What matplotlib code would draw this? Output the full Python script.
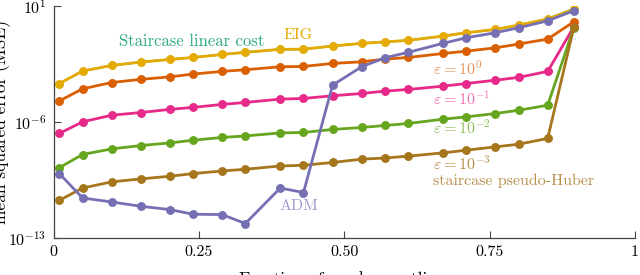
import numpy as np
import matplotlib
matplotlib.use("Agg")
import matplotlib.pyplot as plt

plt.rcParams['font.family'] = ['cmr10']
plt.rcParams['mathtext.fontset'] = 'cm'
plt.rcParams['axes.formatter.use_mathtext'] = True

x = [0.01, 0.05, 0.10, 0.15, 0.20, 0.24, 0.29, 0.33, 0.39, 0.43,
     0.48, 0.53, 0.57, 0.61, 0.67, 0.71, 0.76, 0.80, 0.85, 0.895]

# log10(MSE) values
eig = [-3.67, -2.92, -2.58, -2.38, -2.22, -2.10, -1.92, -1.79, -1.61, -1.60,
       -1.41, -1.25, -1.16, -1.07, -0.81, -0.61, -0.41, -0.15, 0.22, 0.80]
lin = [-3.67, -2.92, -2.58, -2.38, -2.22, -2.10, -1.92, -1.79, -1.61, -1.60,
       -1.41, -1.25, -1.16, -1.07, -0.81, -0.61, -0.41, -0.15, 0.22, 0.84]
eps0 = [-4.72, -3.99, -3.61, -3.42, -3.27, -3.10, -2.94, -2.84, -2.66, -2.64,
        -2.46, -2.36, -2.20, -2.10, -1.86, -1.72, -1.52, -1.29, -0.99, 0.05]
eps1 = [-6.68, -5.98, -5.58, -5.42, -5.23, -5.11, -4.93, -4.81, -4.61, -4.57,
        -4.41, -4.27, -4.13, -4.03, -3.83, -3.67, -3.47, -3.30, -2.94, -0.25]
eps2 = [-8.74, -7.95, -7.61, -7.41, -7.25, -7.09, -6.92, -6.83, -6.65, -6.62,
        -6.44, -6.32, -6.20, -6.08, -5.82, -5.68, -5.48, -5.28, -4.98, -0.30]
eps3 = [-10.71, -9.97, -9.60, -9.42, -9.26, -9.10, -8.94, -8.84, -8.64, -8.60,
        -8.43, -8.23, -8.16, -8.05, -7.85, -7.69, -7.49, -7.33, -6.98, -0.29]
adm = [-9.10, -10.57, -10.81, -11.07, -11.27, -11.55, -11.57, -12.11, -9.97, -10.24,
       -3.77, -2.66, -2.12, -1.79, -1.25, -0.91, -0.61, -0.31, 0.11, 0.72]

colors = {
    'lin': '#1b9e77', 'eig': '#e6ab02', 'eps0': '#d95f02', 'eps1': '#e7298a',
    'eps2': '#66a61e', 'eps3': '#a6761d', 'adm': '#7570b3'
}

fig = plt.figure(figsize=(6.4, 2.75), dpi=100)
ax = fig.add_axes([0.0836, 0.1335, 0.9084, 0.8445])

series = [(lin, 'lin', 1.5, 4.6), (eig, 'eig', 2.0, 5.4), (eps0, 'eps0', 2.0, 5.4),
          (eps1, 'eps1', 2.0, 5.4), (eps2, 'eps2', 2.0, 5.4),
          (eps3, 'eps3', 2.0, 5.4), (adm, 'adm', 2.0, 5.4)]
for vals, key, lw, ms in series:
    ax.plot(x, 10.0 ** np.array(vals), '-o', color=colors[key], lw=lw,
            ms=ms, mec=colors[key], mfc=colors[key])

ax.set_yscale('log')
ax.set_xlim(0, 1)
ax.set_ylim(1e-13, 1e1)
ax.set_yticks([1e-13, 1e-6, 1e1])
ax.set_yticklabels([r'$10^{-13}$', r'$10^{-6}$', r'$10^{1}$'])
ax.yaxis.set_minor_locator(matplotlib.ticker.NullLocator())
ax.set_xticks([0, 0.25, 0.5, 0.75, 1])
ax.set_xticklabels(['0', '0.25', '0.50', '0.75', '1'])
ax.tick_params(direction='in', length=5, width=0.8, labelsize=11.5,
               color='#444444', pad=5)
for s in ['top', 'right']:
    ax.spines[s].set_visible(False)
for s in ['left', 'bottom']:
    ax.spines[s].set_color('#444444')
    ax.spines[s].set_linewidth(0.9)

ax.set_ylabel('mean squared error (MSE)', fontsize=12.5, labelpad=-2)
ax.set_xlabel('Fraction of random outliers', fontsize=12.5, labelpad=9)

fs = 11.5
ax.text(0.113, 10 ** -1.1, 'Staircase linear cost', color='#2aa882',
        fontsize=12, ha='left', va='center')
ax.text(0.421, 10 ** -0.76, 'EIG', color=colors['eig'], fontsize=fs,
        ha='center', va='center')
ax.text(0.652, 10 ** -2.75, r'$\varepsilon = 10^{0}$', color='#e8935a',
        fontsize=fs, ha='left', va='center')
ax.text(0.652, 10 ** -4.6, r'$\varepsilon = 10^{-1}$', color='#ef70b0',
        fontsize=fs, ha='left', va='center')
ax.text(0.652, 10 ** -6.3, r'$\varepsilon = 10^{-2}$', color='#8cbf5a',
        fontsize=fs, ha='left', va='center')
ax.text(0.652, 10 ** -8.5, r'$\varepsilon = 10^{-3}$', color='#b8904a',
        fontsize=fs, ha='left', va='center')
ax.text(0.652, 10 ** -9.55, 'staircase pseudo-Huber', color='#b8904a',
        fontsize=fs, ha='left', va='center')
ax.text(0.422, 10 ** -11.05, 'ADM', color='#9c98cc', fontsize=fs,
        ha='center', va='center')

fig.savefig('out.png', dpi=100)
